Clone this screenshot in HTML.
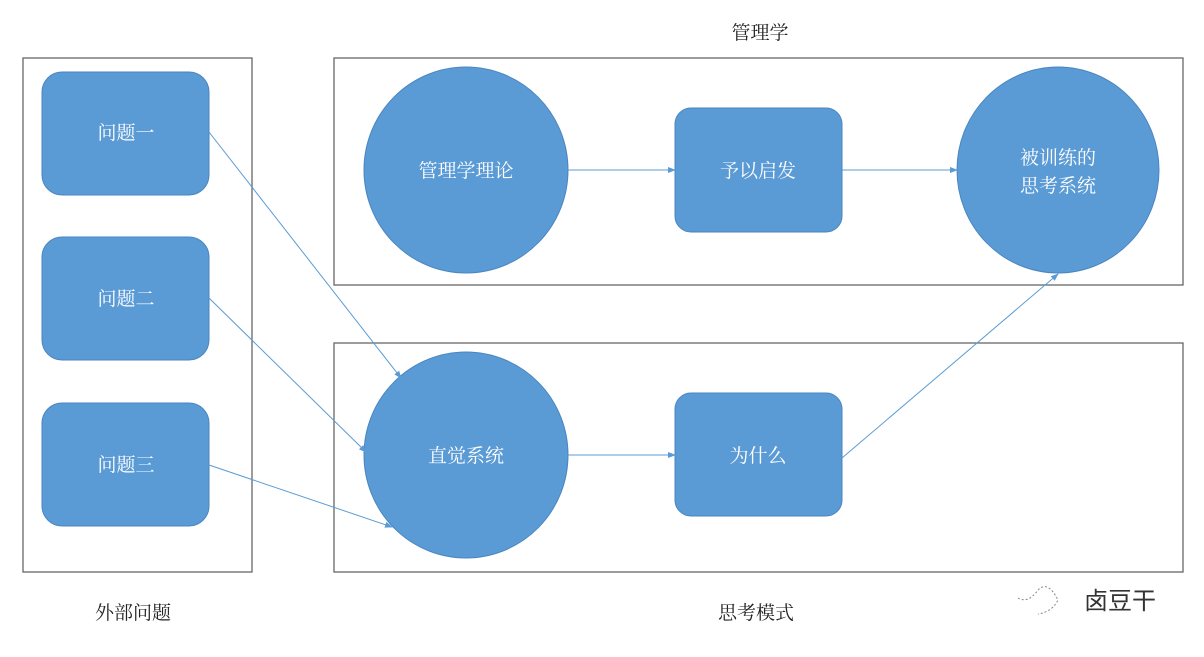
<!DOCTYPE html>
<html><head><meta charset="utf-8"><style>
body{margin:0;background:#fff;}
svg text{font-family:"Liberation Serif","Noto Serif CJK SC",serif;}
</style></head><body>
<svg width="1204" height="652" viewBox="0 0 1204 652" xmlns="http://www.w3.org/2000/svg">
<defs><marker id="a" markerWidth="8" markerHeight="8" refX="7" refY="4" orient="auto" markerUnits="userSpaceOnUse"><path d="M0,1 L8,4 L0,7 z" fill="#5b9bd5"/></marker></defs>
<rect x="23" y="58" width="229" height="514" fill="none" stroke="#666" stroke-width="1.3"/>
<rect x="334" y="58" width="849" height="227" fill="none" stroke="#666" stroke-width="1.3"/>
<rect x="334" y="343" width="849" height="229" fill="none" stroke="#666" stroke-width="1.3"/>
<g fill="#5b9bd5" stroke="#4a86c0">
<rect x="42" y="72" width="167" height="123" rx="20"/>
<rect x="42" y="237" width="167" height="123" rx="20"/>
<rect x="42" y="403" width="167" height="123" rx="20"/>
<ellipse cx="466" cy="170" rx="102" ry="103"/>
<rect x="675" y="108" width="167" height="124" rx="16"/>
<ellipse cx="1058" cy="170" rx="101" ry="103"/>
<ellipse cx="466" cy="455" rx="102" ry="103"/>
<rect x="675" y="393" width="167" height="123" rx="16"/>
</g>
<g stroke="#5b9bd5" stroke-width="1" fill="none" marker-end="url(#a)">
<line x1="209" y1="132" x2="401" y2="378"/>
<line x1="209" y1="298" x2="366" y2="452"/>
<line x1="209" y1="465" x2="392" y2="527"/>
<line x1="568" y1="170" x2="675" y2="170"/>
<line x1="842" y1="170" x2="957" y2="170"/>
<line x1="568" y1="455" x2="675" y2="455"/>
<line x1="842" y1="458" x2="1058" y2="274"/>
</g>
<g fill="#fff" font-size="19" text-anchor="middle">
<text x="126" y="139">问题一</text>
<text x="126" y="305">问题二</text>
<text x="126" y="471">问题三</text>
<text x="466" y="177">管理学理论</text>
<text x="758" y="177">予以启发</text>
<text x="1058" y="164">被训练的</text>
<text x="1058" y="192">思考系统</text>
<text x="466" y="462">直觉系统</text>
<text x="758" y="462">为什么</text>
</g>
<g fill="#222" font-size="19" text-anchor="middle">
<text x="760" y="39">管理学</text>
<text x="133" y="619">外部问题</text>
<text x="756" y="619">思考模式</text>
</g>
<text x="1120" y="609" font-size="24" text-anchor="middle" fill="#333" style="font-family:'Liberation Sans','Noto Sans CJK SC',sans-serif">卤豆干</text>
<g stroke="#888" stroke-width="1" fill="none" stroke-dasharray="2,2"><path d="M1018,598 q10,6 20,-8 q10,-10 20,10 q-6,12 -20,14"/></g>
</svg>
</body></html>
